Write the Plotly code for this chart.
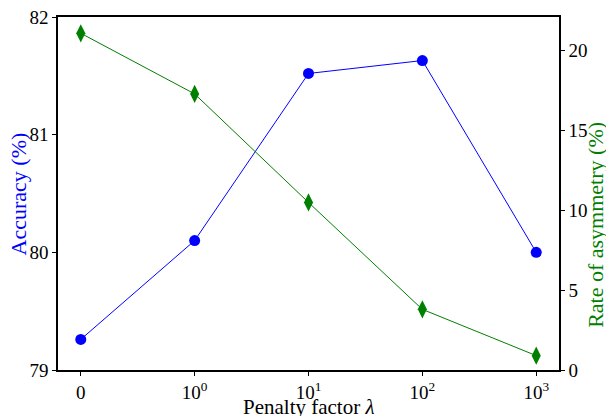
import plotly.graph_objects as go

categories = ["0", "10<sup>0</sup>", "10<sup>1</sup>", "10<sup>2</sup>", "10<sup>3</sup>"]
accuracy = [79.26, 80.10, 81.52, 81.63, 80.00]
asymmetry = [21.1, 17.3, 10.5, 3.8, 0.9]
acc_ticks = [79, 80, 81, 82]
asym_ticks = [0, 5, 10, 15, 20]

FONT = "Liberation Serif, Times New Roman, serif"

fig = go.Figure()
fig.add_trace(go.Scatter(
    x=categories, y=accuracy, mode="lines+markers",
    line=dict(color="blue", width=1),
    marker=dict(symbol="circle", size=11, color="blue"),
    yaxis="y", showlegend=False))
fig.add_trace(go.Scatter(
    x=categories, y=asymmetry, mode="lines+markers",
    line=dict(color="green", width=1),
    marker=dict(symbol="diamond-tall", size=13, color="green"),
    yaxis="y2", showlegend=False))

fig.update_layout(
    width=606, height=416, autosize=False,
    margin=dict(l=58, r=47, t=17, b=46, pad=0, autoexpand=False),
    paper_bgcolor="white", plot_bgcolor="white",
    font=dict(family=FONT, size=19, color="black"),
    xaxis=dict(
        type="category", range=[-0.2, 4.2], automargin=False,
        tickvals=categories, ticktext=categories,
        showline=True, linecolor="black", linewidth=1.5, mirror=True,
        ticks="outside", ticklen=4, tickcolor="black",
        showgrid=False, zeroline=False,
    ),
    yaxis=dict(
        range=[79, 82], tickvals=acc_ticks, automargin=False,
        showline=True, linecolor="black", linewidth=1.5,
        ticks="outside", ticklen=4, tickcolor="black",
        showgrid=False, zeroline=False,
    ),
    yaxis2=dict(
        range=[0, 22.12], tickvals=asym_ticks, automargin=False,
        overlaying="y", side="right",
        showline=True, linecolor="black", linewidth=1.5,
        ticks="outside", ticklen=4, tickcolor="black",
        showgrid=False, zeroline=False,
    ),
    annotations=[
        dict(text="Penalty factor <i>λ</i>", xref="paper", yref="paper",
             x=0.5, y=-0.066, xanchor="center", yanchor="top", showarrow=False,
             font=dict(family=FONT, size=21, color="black")),
        dict(text="Accuracy (%)", xref="paper", yref="paper",
             x=-0.078, y=0.5, xanchor="center", yanchor="middle", showarrow=False,
             textangle=-90, font=dict(family=FONT, size=22, color="blue")),
        dict(text="Rate of asymmetry (%)", xref="paper", yref="paper",
             x=1.073, y=0.41, xanchor="center", yanchor="middle", showarrow=False,
             textangle=-90, font=dict(family=FONT, size=22, color="green")),
    ],
)

fig.write_html(
    "out.html",
    config={"displayModeBar": False},
    post_script="document.body.style.margin='0';document.body.style.overflow='hidden';",
)
